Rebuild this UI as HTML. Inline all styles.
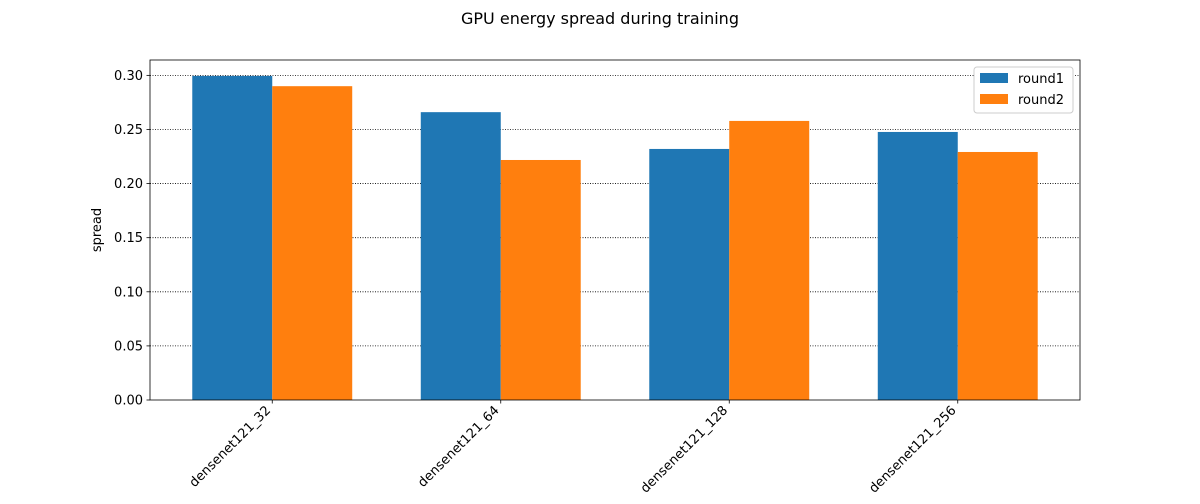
<!DOCTYPE html>
<html><head><meta charset="utf-8"><style>
body{margin:0;background:#fff;font-family:"DejaVu Sans","Liberation Sans",sans-serif;}
svg text{font-family:"DejaVu Sans","Liberation Sans",sans-serif;}
</style></head><body>
<svg id="chart" width="1200" height="500" xmlns="http://www.w3.org/2000/svg">
<text x="600" y="24" text-anchor="middle" font-size="16">GPU energy spread during training</text>
<g id="plot"></g>
</svg>
<script>
const categories = ["densenet121_32","densenet121_64","densenet121_128","densenet121_256"];
const round1 = [0.2995,0.266,0.232,0.2477];
const round2 = [0.290,0.2218,0.2579,0.2292];
const yTicks = [0,0.05,0.10,0.15,0.20,0.25,0.30];
const seriesNames = ["round1","round2"];
const L=150,R=1080,T=60,B=400;
const xmin=-0.535,xmax=categories.length-1+0.535,ymax=0.3142;
const xs=v=>L+(v-xmin)/(xmax-xmin)*(R-L);
const ys=v=>B-v/ymax*(B-T);
const NS="http://www.w3.org/2000/svg";
const g=document.getElementById('plot');
function mk(t,a){const e=document.createElementNS(NS,t);for(const k in a)e.setAttribute(k,a[k]);g.appendChild(e);return e;}
yTicks.forEach(v=>{
  if(v>0){const gl=mk('line',{x1:L,x2:R,y1:ys(v),y2:ys(v),stroke:'#000','stroke-width':0.8,'stroke-dasharray':'1,1.5'});
  
  }
  mk('line',{x1:L-3.5,x2:L,y1:ys(v),y2:ys(v),stroke:'#000','stroke-width':0.8});
  const t=mk('text',{x:L-7,y:ys(v)+4.5,'text-anchor':'end','font-size':13});
  t.textContent=v.toFixed(2);
  
  
});
const w=0.35,colors=['#1f77b4','#ff7f0e'];
[round1,round2].forEach((s,si)=>{
  s.forEach((v,i)=>{
    const x0=xs(i-w+si*w),x1=xs(i+si*w);
    const r=mk('rect',{x:x0,y:ys(v),width:x1-x0,height:B-ys(v),fill:colors[si]});
    
    
  });
});
categories.forEach((c,i)=>{
  const x=xs(i);
  mk('line',{x1:x,x2:x,y1:B,y2:B+3.5,stroke:'#000','stroke-width':0.8});
  const tx=x-1,ty=B+11;
  const t=mk('text',{x:tx,y:ty,'text-anchor':'end','font-size':13,transform:`rotate(-45 ${tx} ${ty})`});
  t.textContent=c;
  
  
});
mk('rect',{x:L,y:T,width:R-L,height:B-T,fill:'none',stroke:'#000','stroke-width':0.8});
const yl=mk('text',{x:101,y:230,'text-anchor':'middle','font-size':13,transform:'rotate(-90 101 230)'});
yl.textContent='spread';


const lg=mk('rect',{x:974,y:67,width:99,height:46,fill:'#fff',stroke:'#ccc',rx:3});


seriesNames.forEach((n,i)=>{
  mk('rect',{x:980,y:73+i*21,width:28,height:10,fill:colors[i]});
  const t=mk('text',{x:1018,y:83+i*21,'font-size':13});
  t.textContent=n;
  
  
});
</script>
</body></html>
